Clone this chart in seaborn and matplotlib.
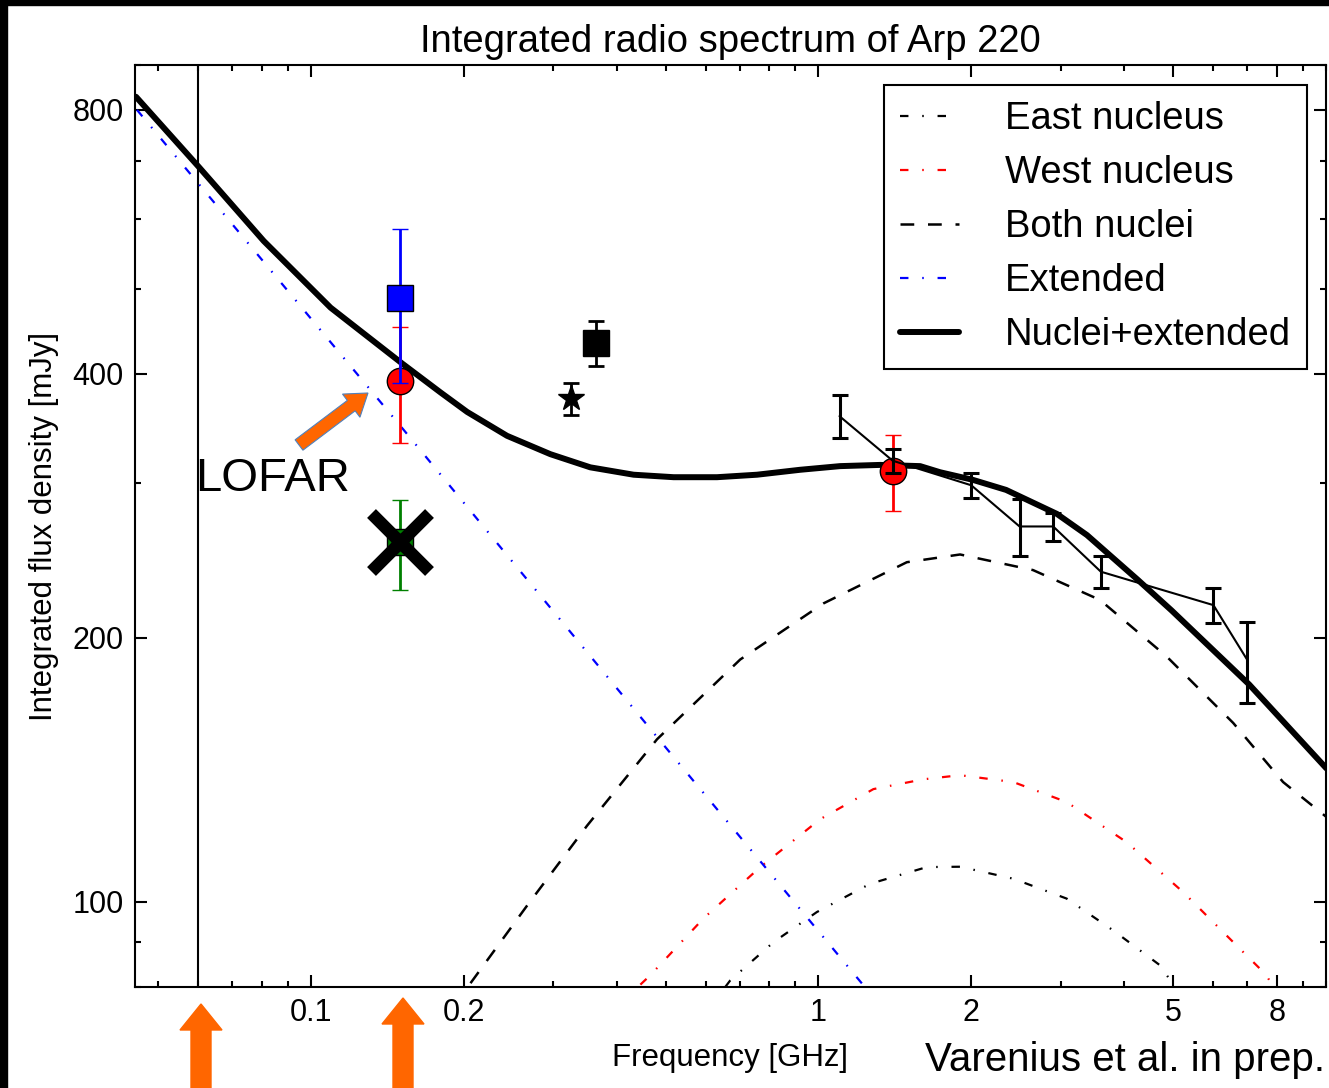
import numpy as np
import pandas as pd
import matplotlib
matplotlib.use("Agg")
import matplotlib.pyplot as plt
import seaborn as sns
from matplotlib.patches import FancyArrow, Rectangle
from matplotlib.transforms import IdentityTransform
from matplotlib.ticker import FixedLocator, FixedFormatter, LogLocator, NullFormatter

# ---------------- data ----------------
tot_freq = [0.0452, 0.0602, 0.0807, 0.1093, 0.1513, 0.180, 0.2031, 0.2434, 0.2963, 0.3551,
            0.4322, 0.5183, 0.631, 0.7566, 0.920, 1.103, 1.323, 1.586, 1.736, 2.01, 2.342,
            2.949, 3.381, 4.257, 4.962, 7.057, 10.02]
tot_flux = [828, 688, 567, 476, 411, 381, 362, 340, 324, 313,
            307, 305, 305, 307, 311, 314, 315, 314, 309, 303, 295,
            277, 262, 233, 215, 177, 142]

both_freq = [0.2062, 0.2667, 0.350, 0.4807, 0.7011, 1.023, 1.493, 1.901, 2.647, 3.586,
             4.853, 6.564, 8.232, 10.02]
both_flux = [80.8, 99.1, 122.2, 153.3, 189, 219, 244, 249, 239, 221,
             190.5, 160, 137, 125]

west_freq = [0.4457, 0.4661, 0.5936, 0.7677, 1.008, 1.283, 1.61, 1.901, 2.421, 3.083,
             4.048, 5.233, 6.564, 7.636, 7.86]
west_flux = [80.5, 82.5, 95.8, 109.6, 124.3, 134.5, 138, 139.5, 137, 130,
             117, 102.6, 90, 82.5, 80]

east_freq = [0.655, 0.67, 0.8155, 0.9927, 1.264, 1.635, 1.901, 2.421, 3.083, 3.809, 4.708, 4.964]
east_flux = [80, 81.4, 90, 97.4, 104.9, 109.6, 109.7, 106.3, 100.9, 92.8, 84.7, 81.0]

ext_freq = [0.0454, 0.150, 0.4879, 1.223]
ext_flux = [800, 349, 152.6, 80.5]

# measurements
lofar_freq = [0.15]
lofar_red_flux = [393]
lofar_red_err = [59]
lofar_blue_flux = [488]
lofar_blue_err = [97]
lofar_green_flux = [257]
lofar_green_err = [30]

red14_freq = [1.4]
red14_flux = [310]
red14_err = [31]

star_freq = [0.325]
star_flux = [375]
star_err = [16]

sq_freq = [0.365]
sq_flux = [434]
sq_err = [26]

lit_freq = [1.10, 1.40, 2.0, 2.49, 2.9, 3.6, 6.0, 7.0]
lit_flux = [358, 318.5, 298.6, 268, 268, 238, 218, 188.7]
lit_err = [20, 10, 10, 20, 10, 10, 10, 20]

lofar_lba = 0.06

xticks = [0.1, 0.2, 1, 2, 5, 8]
xticklabels = ["0.1", "0.2", "1", "2", "5", "8"]
yticks = [100, 200, 400, 800]
yticklabels = ["100", "200", "400", "800"]

legend_labels = ["East nucleus", "West nucleus", "Both nuclei", "Extended", "Nuclei+extended"]

# ---------------- style ----------------
sns.set_theme(style="ticks")
plt.rcParams["font.family"] = ["Liberation Sans", "DejaVu Sans"]
plt.rcParams.update({
    "axes.edgecolor": "black",
    "axes.linewidth": 1.5,
    "xtick.color": "black",
    "ytick.color": "black",
    "text.color": "black",
    "axes.labelcolor": "black",
    "figure.facecolor": "white",
    "axes.facecolor": "white",
})

W, H = 1329, 1088
fig = plt.figure(figsize=(W / 100, H / 100), dpi=100)
ax = fig.add_axes([135 / W, 1 - 987 / H, (1326 - 135) / W, (987 - 65) / H])
ax.set_xscale("log")
ax.set_yscale("log")

dashdot = (0, (3.8, 6.2, 0.7, 6.2))
dashed = (0, (5.5, 5.5))

def curve(xs, ys, **kw):
    df = pd.DataFrame({"x": xs, "y": ys})
    n0 = len(ax.lines)
    sns.lineplot(data=df, x="x", y="y", ax=ax, sort=False, estimator=None,
                 legend=False, **kw)
    return ax.lines[n0]

h_east = curve(east_freq, east_flux, color="black", linewidth=1.6, linestyle=dashdot, zorder=2)
h_west = curve(west_freq, west_flux, color="red", linewidth=1.6, linestyle=dashdot, zorder=2)
h_both = curve(both_freq, both_flux, color="black", linewidth=1.8, linestyle=dashed, zorder=2)
h_ext = curve(ext_freq, ext_flux, color="blue", linewidth=1.6, linestyle=dashdot, zorder=2)
h_tot = curve(tot_freq, tot_flux, color="black", linewidth=4.3, zorder=2.2)

ax.axvline(lofar_lba, color="black", linewidth=1.5, zorder=1.5)

# measurements
ax.errorbar(lofar_freq, lofar_red_flux, yerr=lofar_red_err, fmt="o", color="red",
            ms=19, mec="black", mew=1, ecolor="red", elinewidth=2, capsize=5.5,
            capthick=2, zorder=3)
ax.errorbar(red14_freq, red14_flux, yerr=red14_err, fmt="o", color="red",
            ms=19, mec="black", mew=1, ecolor="red", elinewidth=2, capsize=5.5,
            capthick=2, zorder=3)
ax.errorbar(lofar_freq, lofar_blue_flux, yerr=lofar_blue_err, fmt="s", color="blue",
            ms=19, mec="black", mew=1, ecolor="blue", elinewidth=2, capsize=5.5,
            capthick=2, zorder=4)
ax.errorbar(lofar_freq, lofar_green_flux, yerr=lofar_green_err, fmt="s", color=(0, 0.5, 0),
            ms=19, mec="black", mew=1, ecolor=(0, 0.5, 0), elinewidth=2, capsize=5.5,
            capthick=2, zorder=3)
ax.plot(lofar_freq, lofar_green_flux, marker="x", ms=42, mew=9, color="black",
        linestyle="none", zorder=5)
ax.errorbar(star_freq, star_flux, yerr=star_err, fmt="*", color="black",
            ms=19, ecolor="black", elinewidth=2, capsize=5.5, capthick=2, zorder=3)
ax.errorbar(sq_freq, sq_flux, yerr=sq_err, fmt="s", color="black",
            ms=19, ecolor="black", elinewidth=2, capsize=5.5, capthick=2, zorder=3)
ax.errorbar(lit_freq, lit_flux, yerr=lit_err, fmt="-", color="black", linewidth=1.5,
            ecolor="black", elinewidth=2.2, capsize=5.5, capthick=2.2, zorder=6)

# axes
ax.set_xlim(0.045, 10)
ax.set_ylim(80, 900)
ax.xaxis.set_major_locator(FixedLocator(xticks))
ax.xaxis.set_major_formatter(FixedFormatter(xticklabels))
ax.xaxis.set_minor_locator(LogLocator(base=10, subs=np.arange(1, 10), numticks=50))
ax.xaxis.set_minor_formatter(NullFormatter())
ax.yaxis.set_major_locator(FixedLocator(yticks))
ax.yaxis.set_major_formatter(FixedFormatter(yticklabels))
ax.yaxis.set_minor_locator(LogLocator(base=10, subs=np.arange(1, 10), numticks=50))
ax.yaxis.set_minor_formatter(NullFormatter())
ax.tick_params(which="both", direction="in", top=True, right=True, width=1.5,
               labelsize=22)
ax.tick_params(which="major", length=8.5)
ax.tick_params(which="minor", length=4)
ax.tick_params(axis="x", which="major", pad=8)
ax.tick_params(axis="y", which="major", pad=8)
for s in ax.spines.values():
    s.set_visible(True)
    s.set_linewidth(1.5)
    s.set_color("black")

ax.set_xlabel("Frequency [GHz]", fontsize=22.5, labelpad=11)
ax.set_ylabel("Integrated flux density [mJy]", fontsize=22.5, labelpad=10)
ax.set_title("Integrated radio spectrum of Arp 220", fontsize=27.5, pad=9)

leg = ax.legend([h_east, h_west, h_both, h_ext, h_tot], legend_labels,
                loc="upper right", bbox_to_anchor=(0.984, 0.978), fontsize=27.5,
                frameon=True, fancybox=False, edgecolor="black", framealpha=1,
                borderaxespad=0, handlelength=1.55, handletextpad=1.2,
                labelspacing=0.47, borderpad=0.42)
leg.get_frame().set_linewidth(1.5)

# annotations
fig.text(195 / W, 1 - 491 / H, "LOFAR", fontsize=34, ha="left", va="baseline")
fig.text(1125 / W, 1 - 1060 / H, "Varenius et al. in prep.", fontsize=29,
         ha="center", va="center")

orange = "#FF6600"
idt = IdentityTransform()
for xc, tip in [(201, 1004), (403, 998)]:
    arr = FancyArrow(xc, 0, 0, H - tip, width=20, head_width=42, head_length=26,
                     length_includes_head=True, color=orange, transform=idt)
    fig.add_artist(arr)
arr = FancyArrow(299, H - 445, 69, -(393 - 445), width=13, head_width=29,
                 head_length=21, length_includes_head=True, facecolor=orange,
                 edgecolor="#4F81BD", linewidth=0.8, transform=idt, zorder=7)
fig.add_artist(arr)

# black frame bands at top and left
fig.add_artist(Rectangle((0, 1 - 5 / H), 1, 5 / H, transform=fig.transFigure,
                         color="black", zorder=10))
fig.add_artist(Rectangle((0, 0), 7 / W, 1, transform=fig.transFigure,
                         color="black", zorder=10))

fig.savefig("out.png", dpi=100)
